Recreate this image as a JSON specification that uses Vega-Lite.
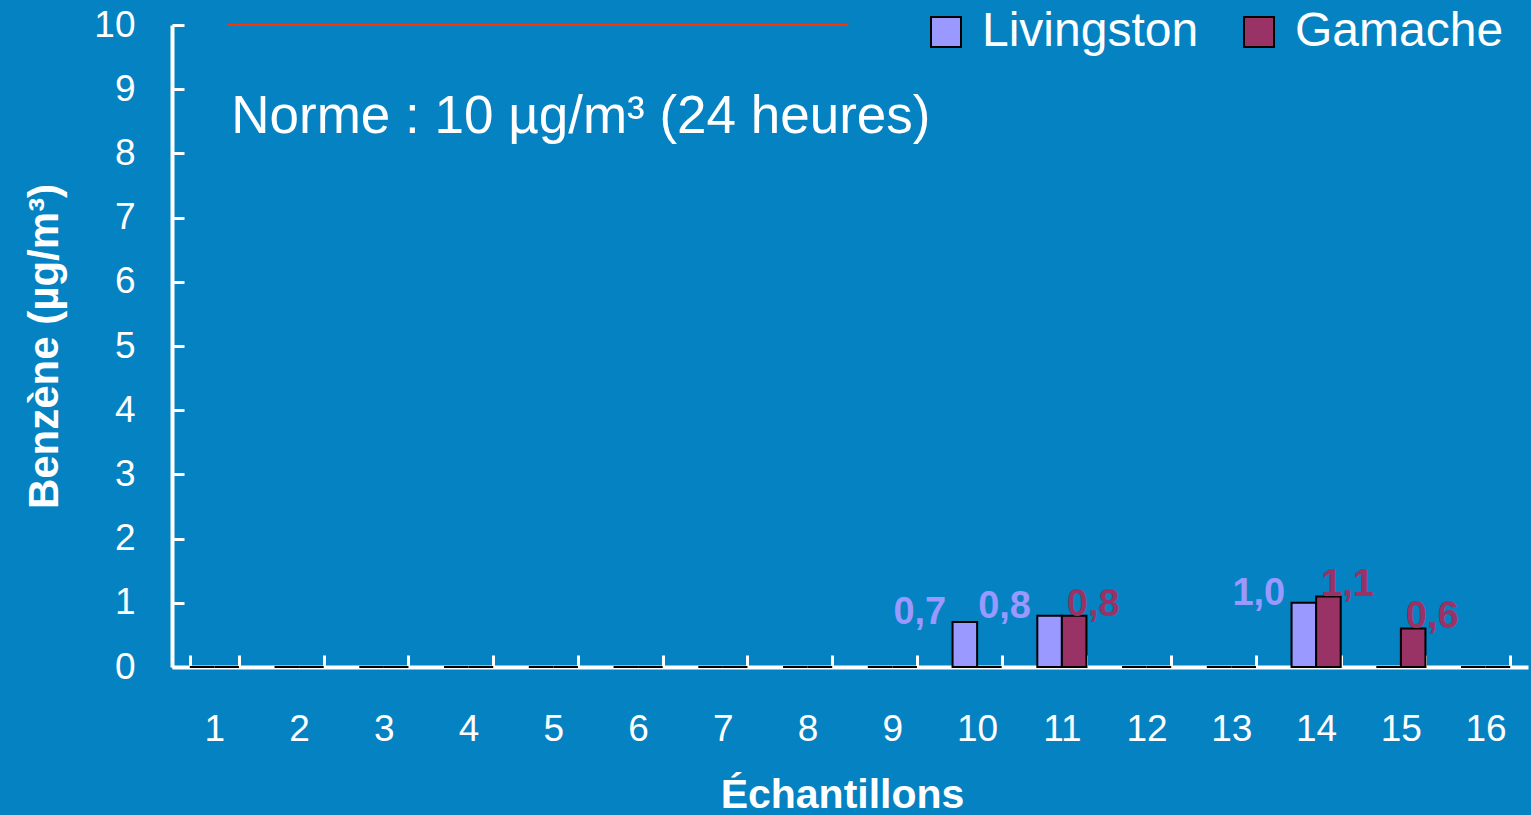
{
  "$schema": "https://vega.github.io/schema/vega-lite/v6.json",
  "width": 1356,
  "height": 642,
  "autosize": {"type": "none"},
  "padding": {"left": 172, "top": 25, "right": 3, "bottom": 148},
  "background": "#0582c2",
  "config": {
    "view": {"stroke": null},
    "font": "Liberation Sans",
    "locale": {"number": {"decimal": ",", "thousands": " ", "grouping": [3], "currency": ["", " €"]}}
  },
  "datasets": {
    "bars": [
      {"ech": "1", "site": "Livingston", "val": 0}, {"ech": "1", "site": "Gamache", "val": 0},
      {"ech": "2", "site": "Livingston", "val": 0}, {"ech": "2", "site": "Gamache", "val": 0},
      {"ech": "3", "site": "Livingston", "val": 0}, {"ech": "3", "site": "Gamache", "val": 0},
      {"ech": "4", "site": "Livingston", "val": 0}, {"ech": "4", "site": "Gamache", "val": 0},
      {"ech": "5", "site": "Livingston", "val": 0}, {"ech": "5", "site": "Gamache", "val": 0},
      {"ech": "6", "site": "Livingston", "val": 0}, {"ech": "6", "site": "Gamache", "val": 0},
      {"ech": "7", "site": "Livingston", "val": 0}, {"ech": "7", "site": "Gamache", "val": 0},
      {"ech": "8", "site": "Livingston", "val": 0}, {"ech": "8", "site": "Gamache", "val": 0},
      {"ech": "9", "site": "Livingston", "val": 0}, {"ech": "9", "site": "Gamache", "val": 0},
      {"ech": "10", "site": "Livingston", "val": 0.7}, {"ech": "10", "site": "Gamache", "val": 0},
      {"ech": "11", "site": "Livingston", "val": 0.8}, {"ech": "11", "site": "Gamache", "val": 0.8},
      {"ech": "12", "site": "Livingston", "val": 0}, {"ech": "12", "site": "Gamache", "val": 0},
      {"ech": "13", "site": "Livingston", "val": 0}, {"ech": "13", "site": "Gamache", "val": 0},
      {"ech": "14", "site": "Livingston", "val": 1.0}, {"ech": "14", "site": "Gamache", "val": 1.1},
      {"ech": "15", "site": "Livingston", "val": 0}, {"ech": "15", "site": "Gamache", "val": 0.6},
      {"ech": "16", "site": "Livingston", "val": 0}, {"ech": "16", "site": "Gamache", "val": 0}
    ],
    "norme": [
      {"x": 0.66, "x2": 7.98, "y": 10, "tx": 0.7, "ty": 8.32, "label": "Norme : 10 µg/m³ (24 heures)"}
    ]
  },
  "layer": [
    {
      "data": {"name": "bars"},
      "encoding": {
        "x": {
          "field": "ech", "type": "nominal", "sort": null,
          "scale": {"paddingInner": 0.42, "paddingOuter": 0.21},
          "axis": {
            "title": "Échantillons",
            "titleFontSize": 41, "titleFontWeight": "bold", "titleColor": "white",
            "titleX": 670, "titleY": 149, "titleBaseline": "bottom", "titleAlign": "center",
            "labelAngle": 0, "labelFontSize": 37, "labelColor": "white", "labelPadding": 56,
            "domainColor": "white", "domainWidth": 4,
            "tickColor": "white", "tickWidth": 3, "tickSize": -12, "tickBand": "extent",
            "grid": false
          }
        },
        "xOffset": {"field": "site", "type": "nominal", "sort": ["Livingston", "Gamache"], "scale": {"paddingInner": 0, "paddingOuter": 0}},
        "y": {
          "field": "val", "type": "quantitative",
          "scale": {"domain": [0, 10]},
          "axis": {
            "title": "Benzène (µg/m³)",
            "titleFontSize": 42, "titleFontWeight": "bold", "titleColor": "white",
            "titleX": -128, "titleY": 321, "titleAngle": -90, "titleBaseline": "middle", "titleAlign": "center",
            "values": [0, 1, 2, 3, 4, 5, 6, 7, 8, 9, 10], "format": "d",
            "labelFontSize": 37, "labelColor": "white", "labelPadding": 49,
            "domainColor": "white", "domainWidth": 4,
            "tickColor": "white", "tickWidth": 3, "tickSize": -12,
            "grid": false
          }
        }
      },
      "layer": [
        {
          "mark": {"type": "bar", "stroke": "black", "strokeWidth": 2},
          "encoding": {
            "color": {
              "field": "site", "type": "nominal",
              "scale": {"domain": ["Livingston", "Gamache"], "range": ["#9999ff", "#993366"]},
              "legend": {
                "title": null, "orient": "none", "direction": "horizontal",
                "legendX": 750, "legendY": -17,
                "symbolType": "square", "symbolSize": 900, "symbolStrokeColor": "black", "symbolStrokeWidth": 2,
                "labelFontSize": 48, "labelColor": "white", "labelOffset": 12, "columnPadding": 36, "labelLimit": 0
              }
            }
          }
        },
        {
          "transform": [{"filter": "datum.val > 0 && datum.site == 'Livingston'"}],
          "mark": {"type": "text", "fontSize": 38, "fontWeight": "bold", "baseline": "bottom", "dx": -45, "dy": 10, "color": "#9999ff"},
          "encoding": {"text": {"field": "val", "type": "quantitative", "format": ".1f"}}
        },
        {
          "transform": [{"filter": "datum.val > 0 && datum.site == 'Gamache'"}],
          "mark": {"type": "text", "fontSize": 38, "fontWeight": "bold", "baseline": "bottom", "dx": 19, "dy": 8, "color": "#993366"},
          "encoding": {"text": {"field": "val", "type": "quantitative", "format": ".1f"}}
        }
      ]
    },
    {
      "data": {"name": "norme"},
      "layer": [
        {
          "mark": {"type": "rule", "color": "#ff3300", "strokeWidth": 2},
          "encoding": {
            "x": {"field": "x", "type": "quantitative", "scale": {"domain": [0, 16]}, "axis": null},
            "x2": {"field": "x2"},
            "y": {"field": "y", "type": "quantitative"}
          }
        },
        {
          "mark": {"type": "text", "fontSize": 53, "color": "white", "align": "left", "baseline": "alphabetic"},
          "encoding": {
            "x": {"field": "tx", "type": "quantitative", "scale": {"domain": [0, 16]}, "axis": null},
            "y": {"field": "ty", "type": "quantitative"},
            "text": {"field": "label"}
          }
        }
      ]
    }
  ],
  "resolve": {"scale": {"x": "independent"}}
}
